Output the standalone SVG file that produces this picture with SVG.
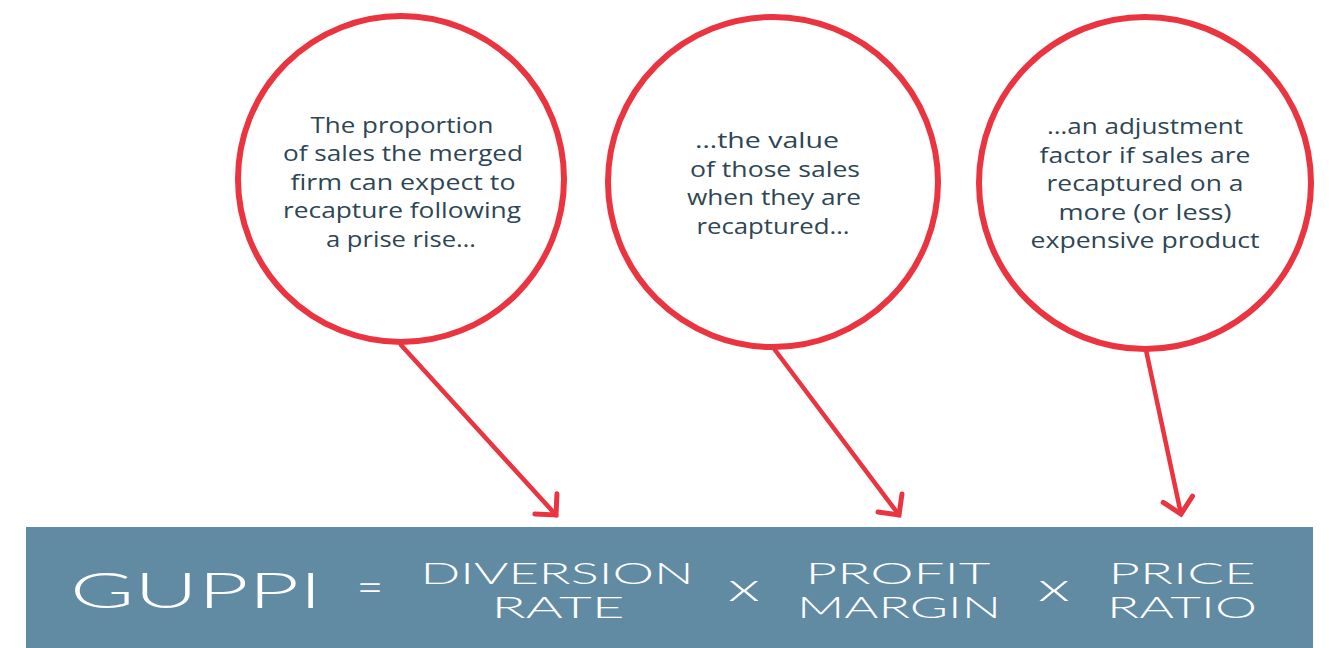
<svg xmlns="http://www.w3.org/2000/svg" width="1329" height="648" viewBox="0 0 1329 648">
<style>
.bubble{fill:#fff;stroke:#ea3440;stroke-width:6}
.btxt{font-family:"Open Sans","Liberation Sans",sans-serif;font-size:22px;font-weight:400;fill:#2e4654;text-anchor:middle}
.conn{stroke:#ea3440;stroke-width:4.5;fill:none;stroke-linecap:round}
.ftxt{font-family:Lato,"Liberation Sans",sans-serif;font-weight:300;fill:#fff;text-anchor:middle}
</style>
<defs>
<marker id="arr" viewBox="-20 -20 24 40" refX="0" refY="0" markerWidth="24" markerHeight="40" markerUnits="userSpaceOnUse" orient="auto">
<path d="M-15,-15 L0,0 L-15,15" fill="none" stroke="#ea3440" stroke-width="5" stroke-linecap="round" stroke-linejoin="miter"/>
</marker>
</defs>
<rect x="0" y="0" width="1329" height="648" fill="#fff"/>
<g id="formula">
<rect x="26" y="527" width="1287" height="121" fill="#618aa3"/>
<text class="ftxt" x="196" y="608" font-size="50" textLength="252" lengthAdjust="spacingAndGlyphs">GUPPI</text>
<text class="ftxt" x="370" y="603" font-size="46" textLength="27" lengthAdjust="spacingAndGlyphs">=</text>
<text class="ftxt" x="557" y="584" font-size="30" textLength="273" lengthAdjust="spacingAndGlyphs">DIVERSION</text>
<text class="ftxt" x="558" y="618" font-size="30" textLength="133" lengthAdjust="spacingAndGlyphs">RATE</text>
<text class="ftxt" x="744" y="601" font-size="40" textLength="32" lengthAdjust="spacingAndGlyphs">x</text>
<text class="ftxt" x="898" y="584" font-size="30" textLength="185" lengthAdjust="spacingAndGlyphs">PROFIT</text>
<text class="ftxt" x="899" y="618" font-size="30" textLength="204" lengthAdjust="spacingAndGlyphs">MARGIN</text>
<text class="ftxt" x="1054" y="601" font-size="40" textLength="32" lengthAdjust="spacingAndGlyphs">x</text>
<text class="ftxt" x="1182" y="584" font-size="30" textLength="147" lengthAdjust="spacingAndGlyphs">PRICE</text>
<text class="ftxt" x="1182" y="618" font-size="30" textLength="150" lengthAdjust="spacingAndGlyphs">RATIO</text>
</g>
<g id="connectors">
<line class="conn" x1="401" y1="345" x2="556" y2="515" marker-end="url(#arr)"/>
<line class="conn" x1="775" y1="350" x2="899" y2="515" marker-end="url(#arr)"/>
<line class="conn" x1="1146" y1="350" x2="1181" y2="514" marker-end="url(#arr)"/>
</g>
<g id="bubble1">
<circle class="bubble" cx="401" cy="179" r="163"/>
<text class="btxt" x="402" y="133" textLength="183" lengthAdjust="spacingAndGlyphs">The proportion</text>
<text class="btxt" x="403" y="161" textLength="240" lengthAdjust="spacingAndGlyphs">of sales the merged</text>
<text class="btxt" x="403" y="190" textLength="225" lengthAdjust="spacingAndGlyphs">firm can expect to</text>
<text class="btxt" x="402" y="218" textLength="238" lengthAdjust="spacingAndGlyphs">recapture following</text>
<text class="btxt" x="401" y="247" textLength="150" lengthAdjust="spacingAndGlyphs">a prise rise…</text>
</g>
<g id="bubble2">
<circle class="bubble" cx="773" cy="182" r="165"/>
<text class="btxt" x="767" y="148" textLength="144" lengthAdjust="spacingAndGlyphs">…the value</text>
<text class="btxt" x="775" y="177" textLength="170" lengthAdjust="spacingAndGlyphs">of those sales</text>
<text class="btxt" x="774" y="205" textLength="174" lengthAdjust="spacingAndGlyphs">when they are</text>
<text class="btxt" x="773" y="234" textLength="153" lengthAdjust="spacingAndGlyphs">recaptured…</text>
</g>
<g id="bubble3">
<circle class="bubble" cx="1145" cy="183" r="166"/>
<text class="btxt" x="1145" y="134" textLength="196" lengthAdjust="spacingAndGlyphs">…an adjustment</text>
<text class="btxt" x="1145" y="163" textLength="211" lengthAdjust="spacingAndGlyphs">factor if sales are</text>
<text class="btxt" x="1145" y="191" textLength="197" lengthAdjust="spacingAndGlyphs">recaptured on a</text>
<text class="btxt" x="1145" y="220" textLength="173" lengthAdjust="spacingAndGlyphs">more (or less)</text>
<text class="btxt" x="1145" y="248" textLength="229" lengthAdjust="spacingAndGlyphs">expensive product</text>
</g>
</svg>
